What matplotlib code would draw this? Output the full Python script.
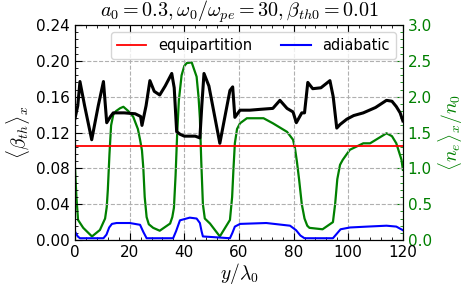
import matplotlib
matplotlib.use("Agg")
import matplotlib.pyplot as plt
import numpy as np
from matplotlib.ticker import AutoMinorLocator

plt.rcParams['mathtext.fontset'] = 'cm'

# <beta_th>_x (left axis)
y_beta = [0, 1.0, 1.8, 3.5, 6.1, 8.5, 10.4, 11.6, 13, 14, 18, 22, 24, 24.5, 26, 27.4, 29, 31, 33, 35.4,
          36.3, 37.2, 38.5, 40, 42, 44, 45.7, 46.4, 47.2, 49, 51, 53, 55, 56.7, 57.7, 58.5, 60.4, 64, 68,
          72.4, 75, 77.6, 79.8, 81, 83, 84, 85.2, 87, 90, 93.3, 94.5, 95.8, 97, 99.5, 102, 105.5, 110,
          114, 116, 117.6, 119, 120]
beta = [0.136, 0.150, 0.177, 0.150, 0.112, 0.150, 0.177, 0.131, 0.138, 0.142, 0.142, 0.141, 0.138,
        0.128, 0.150, 0.178, 0.166, 0.162, 0.172, 0.186, 0.170, 0.121, 0.118, 0.116, 0.116, 0.116,
        0.114, 0.150, 0.186, 0.172, 0.140, 0.108, 0.140, 0.167, 0.171, 0.137, 0.145, 0.145, 0.146,
        0.147, 0.156, 0.147, 0.143, 0.131, 0.142, 0.142, 0.176, 0.169, 0.170, 0.178, 0.160, 0.125,
        0.129, 0.135, 0.139, 0.142, 0.148, 0.156, 0.155, 0.149, 0.142, 0.133]

# <n_e>_x / n_0 (right axis)
y_ne = [0, 0.5, 1.1, 3, 6.2, 9.1, 11.0, 11.6, 12.0, 12.6, 13.2, 14, 15, 16.5, 17.7, 19.5, 21.3, 23,
        23.8, 24.5, 25, 25.5, 26.2, 27, 28.6, 31, 34.8, 35.6, 36.2, 36.8, 37.4, 38, 39, 40, 40.9, 42.7,
        44.5, 45.2, 45.7, 46.2, 46.8, 47.5, 49.4, 53, 56.7, 57.5, 58, 58.5, 59.3, 60.4, 62.9, 66.6, 69,
        72.4, 75, 77.6, 79.8, 80.5, 81.2, 82, 83, 84, 85, 85.8, 90.6, 94.4, 95.2, 96, 97, 98, 100.6,
        105.5, 108, 114, 116, 117.6, 119.5, 120]
ne = [1.0, 0.6, 0.28, 0.17, 0.05, 0.14, 0.3, 0.46, 0.7, 1.2, 1.6, 1.75, 1.80, 1.84, 1.86, 1.80, 1.72,
      1.55, 1.40, 1.25, 1.0, 0.6, 0.32, 0.22, 0.17, 0.13, 0.23, 0.32, 0.45, 0.9, 1.5, 1.95, 2.30, 2.43,
      2.47, 2.48, 2.28, 2.0, 1.7, 1.1, 0.5, 0.3, 0.23, 0.05, 0.28, 0.6, 1.0, 1.35, 1.55, 1.63, 1.70,
      1.70, 1.70, 1.63, 1.57, 1.51, 1.40, 1.28, 1.1, 0.85, 0.5, 0.3, 0.2, 0.17, 0.15, 0.25, 0.5, 0.85,
      1.05, 1.12, 1.26, 1.35, 1.35, 1.49, 1.45, 1.35, 1.12, 0.98]

# adiabatic <beta_th>_x (left axis)
y_ad = [0, 1.0, 1.8, 10.4, 11.5, 12.5, 13.5, 15.2, 20, 23.8, 25, 26.2, 35.9, 37, 38.4, 42, 44.5,
        45.7, 46.3, 46.8, 56.7, 57.6, 58.5, 60.4, 70, 78.7, 80.9, 82.5, 84, 94.4, 95.8, 97.2, 100.6,
        107, 114, 117.6, 120]
adiab = [0.0093, 0.004, 0.002, 0.002, 0.006, 0.014, 0.018, 0.019, 0.019, 0.017, 0.009, 0.002,
         0.002, 0.010, 0.022, 0.025, 0.024, 0.019, 0.010, 0.004, 0.002, 0.008, 0.015, 0.018, 0.019,
         0.016, 0.011, 0.005, 0.002, 0.002, 0.007, 0.012, 0.014, 0.015, 0.016, 0.015, 0.011]

equip = 0.1053

fig = plt.figure(figsize=(4.69, 2.92), dpi=100)
ax = fig.add_axes([0.160, 0.178, 0.699, 0.736])
ax2 = ax.twinx()

ax.plot(y_beta, beta, color='black', lw=2.2, zorder=3)
ax.axhline(equip, color='red', lw=1.3, label='equipartition', zorder=2)
ax.plot(y_ad, adiab, color='blue', lw=1.5, label='adiabatic', zorder=2)
ax2.plot(y_ne, ne, color='green', lw=1.6)

ax.set_xlim(0, 120)
ax.set_ylim(0, 0.24)
ax2.set_ylim(0, 3.0)
ax.set_xticks(np.arange(0, 121, 20))
ax.set_yticks(np.arange(0, 0.241, 0.04))
ax.set_yticklabels(['%.2f' % v for v in np.arange(0, 0.241, 0.04)])
ax2.set_yticks(np.arange(0, 3.01, 0.5))
ax.xaxis.set_minor_locator(AutoMinorLocator(5))
ax.yaxis.set_minor_locator(AutoMinorLocator(5))
ax2.yaxis.set_minor_locator(AutoMinorLocator(5))

ax.tick_params(which='both', direction='in', top=True, labelsize=11)
ax.tick_params(which='major', length=5)
ax.tick_params(which='minor', length=2.5)
ax2.tick_params(which='both', direction='in', colors='green', labelsize=11)
ax2.tick_params(which='major', length=5)
ax2.tick_params(which='minor', length=2.5)
ax2.spines['right'].set_color('green')

ax.grid(True, linestyle='--', color='#b0b0b0', lw=0.8)
ax.set_axisbelow(True)

ax.set_xlabel(r'$y/\lambda_0$', fontsize=14, labelpad=1)
ax.set_ylabel(r'$\langle\beta_{th}\rangle_x$', fontsize=14, labelpad=3)
ax2.set_ylabel(r'$\langle n_e\rangle_x/n_0$', fontsize=14, color='green', labelpad=3)
ax.set_title(r'$a_0 = 0.3, \omega_0/\omega_{pe} = 30, \beta_{th0} = 0.01$', fontsize=14.5, pad=3)

ax2.set_zorder(0)
ax.set_zorder(1)
ax.patch.set_visible(False)
ax.legend(loc='upper right', ncol=2, fontsize=10.5, handlelength=2, columnspacing=2.0)

fig.savefig('out.png', dpi=100)
